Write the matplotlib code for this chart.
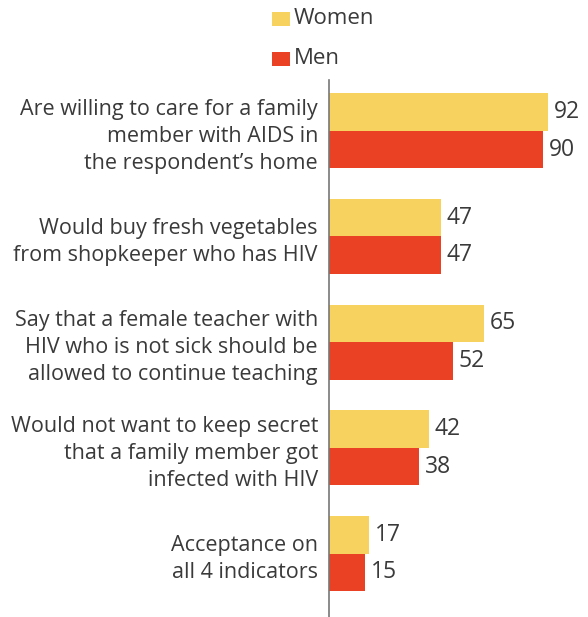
import matplotlib
matplotlib.use("Agg")
import matplotlib.pyplot as plt
import numpy as np
from matplotlib.patches import Rectangle

categories = [
    "Are willing to care for a family\nmember with AIDS in\nthe respondent\u2019s home",
    "Would buy fresh vegetables\nfrom shopkeeper who has HIV",
    "Say that a female teacher with\nHIV who is not sick should be\nallowed to continue teaching",
    "Would not want to keep secret\nthat a family member got\ninfected with HIV",
    "Acceptance on\nall 4 indicators",
]
women = [92, 47, 65, 42, 17]
men = [90, 47, 52, 38, 15]
series_names = ["Women", "Men"]

c_women = "#F7D25E"
c_men = "#EA4125"
txt = "#3a3a3a"
font = "Open Sans"

W, H = 588, 617
fig = plt.figure(figsize=(W / 100, H / 100), dpi=100)
ax = fig.add_axes([329 / W, 0, 1 - 329 / W, 1 - 80 / H])

y = np.arange(len(categories))
bh = 0.355
ax.barh(y - bh / 2, women, height=bh, color=c_women, edgecolor="none")
ax.barh(y + bh / 2, men, height=bh, color=c_men, edgecolor="none")

for yi, w, m in zip(y, women, men):
    ax.text(w + 2.5, yi - bh / 2, str(w), va="center", ha="left", fontsize=16.5,
            color=txt, family=font)
    ax.text(m + 2.5, yi + bh / 2, str(m), va="center", ha="left", fontsize=16.5,
            color=txt, family=font)

ax.set_xlim(0, (W - 329) / 2.38)
ax.set_ylim(4.6, -0.48)
ax.set_yticks(y)
ax.set_yticklabels(categories, fontsize=15.5, color=txt, family=font,
                   linespacing=1.38, ha="right")
ax.tick_params(axis="y", length=0, pad=8)
ax.set_xticks([])
for s in ["top", "right", "bottom"]:
    ax.spines[s].set_visible(False)
ax.spines["left"].set_color("#777777")
ax.spines["left"].set_linewidth(1.2)

# legend
for name, col, yc in [(series_names[0], c_women, 19), (series_names[1], c_men, 59)]:
    fig.add_artist(Rectangle((272 / W, 1 - (yc + 7) / H), 18 / W, 14 / H,
                             transform=fig.transFigure, color=col, lw=0))
    fig.text(294 / W, 1 - yc / H, name, va="center", ha="left", fontsize=16,
             color=txt, family=font)

fig.savefig("out.png", dpi=100, facecolor="white")
